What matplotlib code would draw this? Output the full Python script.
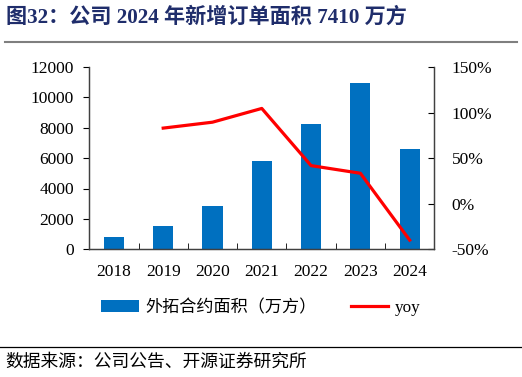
import matplotlib
matplotlib.use('Agg')
import matplotlib.pyplot as plt
from matplotlib.lines import Line2D
from matplotlib.patches import Patch
from matplotlib.ticker import FuncFormatter

plt.rcParams['font.family'] = ['Liberation Serif', 'Noto Sans CJK SC']

# Data
years = ['2018', '2019', '2020', '2021', '2022', '2023', '2024']
area = [815, 1520, 2840, 5810, 8240, 10950, 6590]
yoy = [None, 83, 89.5, 104.6, 41.8, 33.4, -40]

bar_label = '外拓合约面积（万方）'
line_label = 'yoy'
title = '图32：公司 2024 年新增订单面积 7410 万方'
source = '数据来源：公司公告、开源证券研究所'

BLUE = '#0070C0'
RED = '#FF0000'
MIX = ['Liberation Serif', 'Noto Sans CJK SC']

fig = plt.figure(figsize=(5.22, 3.77), dpi=100)
ax = fig.add_axes([0.171, 0.339, 0.661, 0.483])
ax2 = ax.twinx()

x = list(range(len(years)))
ax.bar(x, area, width=0.41, color=BLUE, zorder=2)
ax.set_xlim(-0.5, len(years) - 0.5)
ax.set_ylim(0, 12000)
ax.set_yticks(range(0, 12001, 2000))
ax.set_xticks(x)
ax.set_xticklabels(years)
ax.set_xticks([i + 0.5 for i in x[:-1]], minor=True)
ax.tick_params(axis='x', which='major', length=0, pad=11, labelsize=12.5)
ax.tick_params(axis='x', which='minor', length=4, direction='in')
ax.tick_params(axis='y', length=4, direction='out', pad=7, labelsize=12.5)

yx = [i for i, v in zip(x, yoy) if v is not None]
yv = [v for v in yoy if v is not None]
ax2.plot(yx, yv, color=RED, linewidth=2.3, zorder=3)
ax2.set_ylim(-50, 150)
ax2.set_yticks(range(-50, 151, 50))
ax2.yaxis.set_major_formatter(FuncFormatter(lambda v, p: f'{int(v)}%'))
ax2.tick_params(axis='y', length=4, direction='in', pad=12.5, labelsize=12.5)

for a in (ax, ax2):
    a.spines['top'].set_visible(False)
    for s in ('left', 'right', 'bottom'):
        a.spines[s].set_color('#404040')
        a.spines[s].set_linewidth(0.9)

handles = [Patch(facecolor=BLUE, edgecolor='none'),
           Line2D([0], [0], color=RED, linewidth=2.3)]
leg = fig.legend(handles, [bar_label, line_label], loc='center',
                 bbox_to_anchor=(0.5, 0.183), ncol=2, frameon=False,
                 handlelength=2.2, handletextpad=0.4, columnspacing=2.0,
                 prop={'family': MIX, 'size': 12.3})

fig.text(0.012, 0.955, title, fontsize=15.2, fontweight='bold', color='#1F2D6B',
         family=MIX, va='center', ha='left')
fig.add_artist(Line2D([0.01, 0.99], [0.889, 0.889], color='#7F7F7F', linewidth=1.5))
fig.add_artist(Line2D([0.0, 1.0], [0.08, 0.08], color='#000000', linewidth=0.9))
fig.text(0.01, 0.04, source, fontsize=12.8, color='#000000', family=MIX,
         va='center', ha='left')

fig.savefig('out.png', dpi=100)
